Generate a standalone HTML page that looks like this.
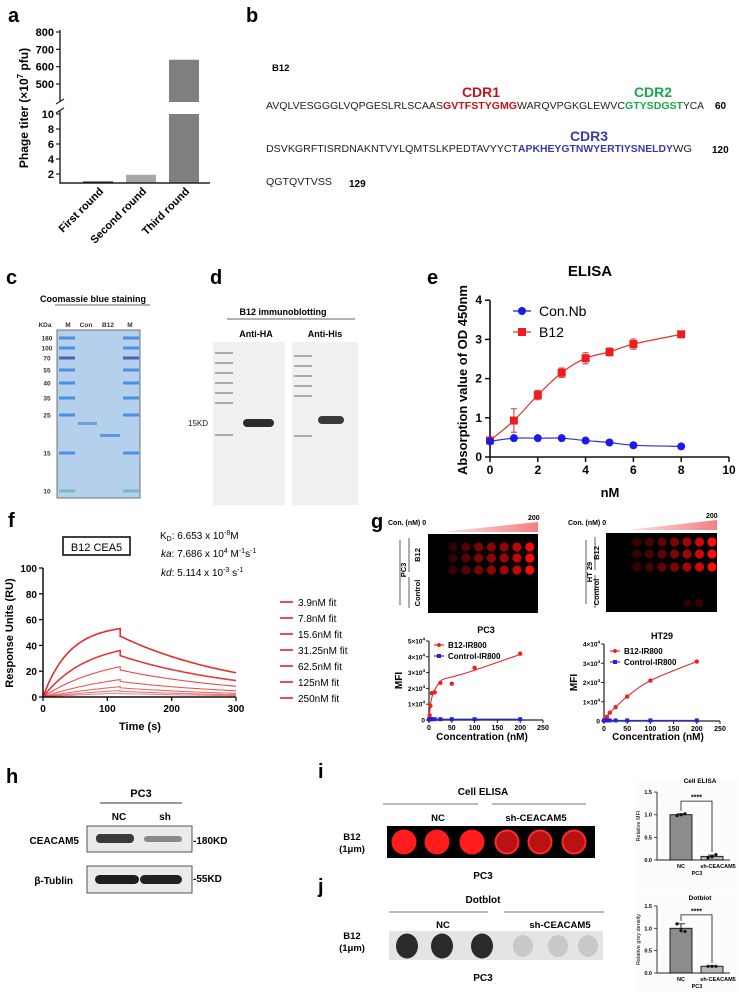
<!DOCTYPE html>
<html><head><meta charset="utf-8"><style>
html,body{margin:0;padding:0;background:#fff;}
svg{display:block;font-family:"Liberation Sans",Arial,sans-serif;}
.b{font-weight:bold;}
</style></head><body>
<svg id="fig" xmlns="http://www.w3.org/2000/svg" width="739" height="992" viewBox="0 0 739 992">
<defs>
<linearGradient id="wedge" x1="0" x2="1" y1="0" y2="0"><stop offset="0" stop-color="#fde4e4"/><stop offset="1" stop-color="#f28080"/></linearGradient>
</defs>

<g class="b" font-size="20">
<text x="8" y="22">a</text>
<text x="246" y="22">b</text>
<text x="6" y="284">c</text>
<text x="210" y="284">d</text>
<text x="427" y="284">e</text>
<text x="8" y="527">f</text>
<text x="371" y="528">g</text>
<text x="6" y="783">h</text>
<text x="318" y="778">i</text>
<text x="318" y="893">j</text>
</g>

<g font-size="10">
<text x="272" y="71" class="b" font-size="9.5">B12</text>
<text x="481" y="97" class="b" font-size="14" fill="#c0141c" text-anchor="middle">CDR1</text>
<text x="653" y="97" class="b" font-size="14" fill="#19a84c" text-anchor="middle">CDR2</text>
<text x="589" y="141" class="b" font-size="14" fill="#3a3aa8" text-anchor="middle">CDR3</text>
<text x="266" y="109" textLength="177" lengthAdjust="spacingAndGlyphs" fill="#222">AVQLVESGGGLVQPGESLRLSCAAS</text>
<text x="443" y="109" textLength="74" lengthAdjust="spacingAndGlyphs" class="b" fill="#c0141c">GVTFSTYGMG</text>
<text x="517" y="109" textLength="108" lengthAdjust="spacingAndGlyphs" fill="#222">WARQVPGKGLEWVC</text>
<text x="625" y="109" textLength="58" lengthAdjust="spacingAndGlyphs" class="b" fill="#19a84c">GTYSDGST</text>
<text x="683" y="109" textLength="21" lengthAdjust="spacingAndGlyphs" fill="#222">YCA</text>
<text x="715" y="109" class="b">60</text>
<text x="266" y="152" textLength="252" lengthAdjust="spacingAndGlyphs" fill="#222">DSVKGRFTISRDNAKNTVYLQMTSLKPEDTAVYYCT</text>
<text x="518" y="152" textLength="155" lengthAdjust="spacingAndGlyphs" class="b" fill="#3a3aa8">APKHEYGTNWYERTIYSNELDY</text>
<text x="673" y="152" textLength="19" lengthAdjust="spacingAndGlyphs" fill="#222">WG</text>
<text x="712" y="153" class="b">120</text>
<text x="266" y="185" textLength="66" lengthAdjust="spacingAndGlyphs" fill="#222">QGTQVTVSS</text>
<text x="349" y="187" class="b">129</text>
</g>

<g>
<text x="93" y="302" class="b" font-size="9" text-anchor="middle">Coomassie blue staining</text>
<line x1="55" y1="305" x2="150" y2="305" stroke="#333" stroke-width="0.8"/>
<g font-size="6.5" class="b" fill="#333" text-anchor="middle">
<text x="45" y="327">KDa</text>
<text x="68" y="327">M</text>
<text x="86" y="327">Con</text>
<text x="108" y="327">B12</text>
<text x="130" y="327">M</text>
</g>
<rect x="57" y="330" width="83" height="168" fill="#b4d0ec" stroke="#555" stroke-width="0.8"/>
<g id="gelMarkers"></g>
<rect x="78" y="422" width="19" height="3" fill="#6aa2e0"/>
<rect x="100" y="434" width="20" height="3" fill="#5d98de"/>
</g>

<g>
<text x="283" y="315" class="b" font-size="9" text-anchor="middle">B12 immunoblotting</text>
<line x1="227" y1="319" x2="355" y2="319" stroke="#333" stroke-width="0.8"/>
<text x="256" y="337" class="b" font-size="9" text-anchor="middle">Anti-HA</text>
<text x="325" y="337" class="b" font-size="9" text-anchor="middle">Anti-His</text>
<rect x="213" y="342" width="72" height="163" fill="#f1f1f1"/>
<rect x="292" y="342" width="66" height="163" fill="#f1f1f1"/>
<g id="blotLadder"></g>
<text x="188" y="426" font-size="8" fill="#222">15KD</text>
<rect x="243" y="419" width="31" height="8" rx="4" fill="#2c2c2c"/>
<rect x="318" y="416" width="26" height="8" rx="4" fill="#3a3a3a"/>
</g>

<g>
<polygon points="440,532 538,522 538,532" fill="url(#wedge)"/>
<text x="388" y="525" class="b" font-size="7">Con. (nM) 0</text>
<text x="528" y="520" class="b" font-size="7">200</text>
<rect x="428" y="534" width="110" height="79" fill="#000"/>
<text transform="translate(406,570) rotate(-90)" class="b" font-size="7.5" text-anchor="middle">PC3</text>
<line x1="409" y1="538" x2="409" y2="572" stroke="#333" stroke-width="0.8"/>
<line x1="409" y1="577" x2="409" y2="608" stroke="#333" stroke-width="0.8"/>
<line x1="400" y1="540" x2="400" y2="605" stroke="#333" stroke-width="0.8"/>
<text transform="translate(420,555) rotate(-90)" class="b" font-size="7.5" text-anchor="middle">B12</text>
<text transform="translate(420,593) rotate(-90)" class="b" font-size="7.5" text-anchor="middle">Control</text>
<polygon points="627,530 717,520 717,530" fill="url(#wedge)"/>
<text x="568" y="525" class="b" font-size="7">Con. (nM) 0</text>
<text x="706" y="518" class="b" font-size="7">200</text>
<rect x="606" y="533" width="111" height="79" fill="#000"/>
<text transform="translate(592,572) rotate(-90)" class="b" font-size="7.5" text-anchor="middle">HT 29</text>
<line x1="586" y1="540" x2="586" y2="604" stroke="#333" stroke-width="0.8"/>
<line x1="595" y1="537" x2="595" y2="570" stroke="#333" stroke-width="0.8"/>
<line x1="595" y1="575" x2="595" y2="608" stroke="#333" stroke-width="0.8"/>
<text transform="translate(599,553) rotate(-90)" class="b" font-size="7.5" text-anchor="middle">B12</text>
<text transform="translate(599,592) rotate(-90)" class="b" font-size="7.5" text-anchor="middle">Control</text>
<g id="gDots"></g>
</g>

<g>
<text x="141" y="797" class="b" font-size="11" text-anchor="middle">PC3</text>
<line x1="100" y1="803" x2="182" y2="803" stroke="#333" stroke-width="0.9"/>
<text x="119" y="820" class="b" font-size="10" text-anchor="middle">NC</text>
<text x="165" y="820" class="b" font-size="10" text-anchor="middle">sh</text>
<rect x="87" y="826" width="105" height="26" fill="#eaeaea" stroke="#444" stroke-width="0.9"/>
<rect x="96" y="834" width="38" height="9" rx="4" fill="#3a3a3a"/>
<rect x="144" y="836" width="38" height="6" rx="3" fill="#8a8a8a"/>
<rect x="87" y="866" width="105" height="27" fill="#eaeaea" stroke="#444" stroke-width="0.9"/>
<rect x="95" y="875" width="44" height="9" rx="4.5" fill="#1e1e1e"/>
<rect x="140" y="875" width="42" height="9" rx="4.5" fill="#222"/>
<text x="79" y="844" class="b" font-size="10" text-anchor="end">CEACAM5</text>
<text x="73" y="884" class="b" font-size="10" text-anchor="end">β-Tublin</text>
<text x="193" y="844" class="b" font-size="10">-180KD</text>
<text x="193" y="882" class="b" font-size="10">-55KD</text>
</g>

<g>
<text x="483" y="795" class="b" font-size="10" text-anchor="middle">Cell ELISA</text>
<line x1="383" y1="804" x2="478" y2="804" stroke="#777" stroke-width="0.9"/>
<line x1="492" y1="804" x2="586" y2="804" stroke="#777" stroke-width="0.9"/>
<text x="438" y="821" class="b" font-size="9.5" text-anchor="middle">NC</text>
<text x="536" y="821" class="b" font-size="9.5" text-anchor="middle">sh-CEACAM5</text>
<text x="352" y="840" class="b" font-size="9.5" text-anchor="middle">B12</text>
<text x="352" y="852" class="b" font-size="9.5" text-anchor="middle">(1μm)</text>
<rect x="387" y="826" width="208" height="32" fill="#000"/>
<text x="483" y="879" class="b" font-size="10" text-anchor="middle">PC3</text>
<text x="483" y="903" class="b" font-size="10" text-anchor="middle">Dotblot</text>
<line x1="389" y1="912" x2="488" y2="912" stroke="#777" stroke-width="0.9"/>
<line x1="504" y1="912" x2="604" y2="912" stroke="#777" stroke-width="0.9"/>
<text x="443" y="928" class="b" font-size="9.5" text-anchor="middle">NC</text>
<text x="560" y="928" class="b" font-size="9.5" text-anchor="middle">sh-CEACAM5</text>
<text x="352" y="939" class="b" font-size="9.5" text-anchor="middle">B12</text>
<text x="352" y="951" class="b" font-size="9.5" text-anchor="middle">(1μm)</text>
<rect x="389" y="931" width="214" height="29" fill="#e4e4e4"/>
<text x="483" y="981" class="b" font-size="10" text-anchor="middle">PC3</text>
<g id="ijDots"></g>
</g>

<g id="charts"></g>
</svg>
<script>
const NS='http://www.w3.org/2000/svg';
const root=document.getElementById('charts');
function mk(tag,attrs,parent){const e=document.createElementNS(NS,tag);for(const k in attrs)e.setAttribute(k,attrs[k]);(parent||root).appendChild(e);return e;}
function txt(x,y,s,attrs,parent){const e=mk('text',Object.assign({x:x,y:y},attrs||{}),parent);e.textContent=s;return e;}
function smooth(pts){let d='M'+pts[0][0]+','+pts[0][1];for(let i=0;i<pts.length-1;i++){const p0=pts[Math.max(0,i-1)],p1=pts[i],p2=pts[i+1],p3=pts[Math.min(pts.length-1,i+2)];const c1=[p1[0]+(p2[0]-p0[0])/6,p1[1]+(p2[1]-p0[1])/6],c2=[p2[0]-(p3[0]-p1[0])/6,p2[1]-(p3[1]-p1[1])/6];d+=' C'+c1+' '+c2+' '+p2;}return d;}

const aCategories=['First round','Second round','Third round'];
const aValues=[1.0,1.9,640];
const aLowTicks=[2,4,6,8,10];
const aHighTicks=[500,600,700,800];
const gelMarkerKDa=[180,100,70,55,40,35,25,15,10];
const eConc=[0,1,2,3,4,5,6,8];
const eB12=[0.42,0.93,1.58,2.15,2.52,2.68,2.88,3.13];
const eB12Err=[0.05,0.3,0.12,0.12,0.14,0.1,0.13,0.04];
const eConNb=[0.4,0.48,0.48,0.48,0.42,0.37,0.3,0.27];
const eXTicks=[0,2,4,6,8,10];
const eYTicks=[0,1,2,3,4];
const fConcLabels=['3.9nM fit','7.8nM fit','15.6nM fit','31.25nM fit','62.5nM fit','125nM fit','250nM fit'];
const fConcNM=[3.9,7.8,15.6,31.25,62.5,125,250];
const fPeakRU=[3,5,8,13.5,23.5,36,53];
const fXTicks=[0,100,200,300];
const fYTicks=[0,20,40,60,80,100];
const gPc3Intensity=[0.1,0.25,0.42,0.5,0.55,0.72,0.98];
const gHt29Intensity=[0.1,0.18,0.3,0.42,0.58,0.78,1.0];
const pc3Conc=[0,1.56,3.13,6.25,12.5,25,50,100,200];
const pc3B12=[0,0.3,0.9,1.7,1.75,2.35,2.3,3.3,4.2];
const pc3FitConc=[0,3,6,12.5,25,35,50,100,200];
const pc3FitVal=[0,0.9,1.4,1.9,2.45,2.62,2.72,3.15,4.15];
const pc3Ctrl=[0.05,0.05,0.05,0.05,0.05,0.05,0.05,0.05,0.05];
const ht29Conc=[0,3.13,6.25,12.5,25,50,100,200];
const ht29B12=[0,0.12,0.22,0.43,0.72,1.27,2.1,3.09];
const ht29Ctrl=[0.03,0.03,0.03,0.03,0.03,0.03,0.03,0.03];
const gXTicks=[0,50,100,150,200,250];
const pc3YTicks=[0,1,2,3,4,5];
const ht29YTicks=[0,1,2,3,4];
const iCats=['NC','sh-CEACAM5'];
const iMeans=[1.0,0.08];
const iErr=[0.02,0.03];
const iPoints=[[0.98,1.0,1.02],[0.05,0.07,0.12]];
const jMeans=[1.0,0.15];
const jErr=[0.1,0.01];
const jPoints=[[1.1,0.95,0.93],[0.15,0.15,0.15]];
const barTicks=[0.0,0.5,1.0,1.5];

(function(){
 const g=document.getElementById('gelMarkers');
 const yRows=[338,348,358,370,383,398,415,453,491];
 gelMarkerKDa.forEach((k,i)=>{
  const y=yRows[i];
  const col=k==70?'#5060b0':(k==10?'#70c0b8':'#4a8fe0');
  const r1=mk('rect',{x:59,y:y-1.5,width:16,height:3,fill:col},g);
  
  
  const r2=mk('rect',{x:123,y:y-1.5,width:16,height:3,fill:col},g);
  
  
  const t=txt(47,y+2.5,String(k),{'font-size':'6.5','font-weight':'bold','fill':'#333','text-anchor':'middle'},g);
  
  
 });
 const b=document.getElementById('blotLadder');
 [[215,352],[215,362],[215,372],[215,382],[215,392],[215,402],[215,434],[294,355],[294,365],[294,375],[294,385],[294,395],[294,435]].forEach((p,i)=>{
  const r=mk('rect',{x:p[0],y:p[1],width:18,height:2,fill:'#aaa'},b);
  
  
 });
})();

(function(){
 const g=mk('g',{});
 
 
 const yLo=v=>189-7.5*Math.max(v,0.8);
 const yHi=v=>84-(v-500)*0.1733;
 const xc=i=>98+i*43;
 const cols=['#111','#a8a8a8','#808080'];
 aValues.forEach((v,i)=>{
  if(v<=10){const r=mk('rect',{x:xc(i)-15,y:yLo(v),width:30,height:183-yLo(v),fill:cols[i]},g);
   
   }
  else{const r=mk('rect',{x:xc(i)-15,y:yLo(10),width:30,height:183-yLo(10),fill:cols[i]},g);
   
   
   const r2=mk('rect',{x:xc(i)-15,y:yHi(v),width:30,height:102-yHi(v),fill:cols[i]},g);
   
   }
  const t=txt(0,0,aCategories[i],{transform:'translate('+(xc(i)+6)+',192) rotate(-45)','text-anchor':'end','font-size':'11','font-weight':'bold'},g);
  
  
 });
 const ax=mk('path',{d:'M60,30 V101 M60,110 V183 H210',stroke:'#222','stroke-width':1.4,fill:'none'},g);
 
 
 const br=mk('path',{d:'M56,104 L64,99 M56,113 L64,108',stroke:'#222','stroke-width':1.2},g);
 
 
 aLowTicks.forEach(v=>{const y=yLo(v);const l=mk('line',{x1:56,x2:60,y1:y,y2:y,stroke:'#222','stroke-width':1.2},g);
  
  const t=txt(54,y+4,String(v),{'font-size':'11','font-weight':'bold','text-anchor':'end'},g);
  });
 aHighTicks.forEach(v=>{const y=yHi(v);const l=mk('line',{x1:56,x2:60,y1:y,y2:y,stroke:'#222','stroke-width':1.2},g);
  
  const t=txt(54,y+4,String(v),{'font-size':'11','font-weight':'bold','text-anchor':'end'},g);
  });
 const yt=mk('text',{transform:'translate(28,108) rotate(-90)','text-anchor':'middle','font-size':'12','font-weight':'bold'},g);
 yt.innerHTML='Phage titer (×10<tspan dy="-5" font-size="8">7</tspan><tspan dy="5"> pfu)</tspan>';
 
 
})();

(function(){
 const g=mk('g',{});
 
 
 const X=v=>490+v*23.9, Y=v=>457-v*39.2;
 const t0=txt(590,276,'ELISA',{'font-size':'15','font-weight':'bold','text-anchor':'middle'},g);
 
 const ax=mk('path',{d:'M490,'+Y(4)+' V457 H729',stroke:'#111','stroke-width':1.6,fill:'none'},g);
 
 eXTicks.forEach(v=>{const l=mk('line',{x1:X(v),x2:X(v),y1:457,y2:462,stroke:'#111','stroke-width':1.5},g);
  
  const t=txt(X(v),474,String(v),{'font-size':'12','font-weight':'bold','text-anchor':'middle'},g);
  });
 eYTicks.forEach(v=>{const l=mk('line',{x1:485,x2:490,y1:Y(v),y2:Y(v),stroke:'#111','stroke-width':1.5},g);
  
  const t=txt(482,Y(v)+4,String(v),{'font-size':'12','font-weight':'bold','text-anchor':'end'},g);
  });
 const xl=txt(610,497,'nM',{'font-size':'13','font-weight':'bold','text-anchor':'middle'},g);
 
 const yl=txt(0,0,'Absorption value of OD 450nm',{transform:'translate(467,380) rotate(-90)','font-size':'13','font-weight':'bold','text-anchor':'middle'},g);
 
 const lb=mk('path',{d:smooth(eConc.map((c,i)=>[X(c),Y(eB12[i])])),stroke:'#e03030','stroke-width':1.2,fill:'none'},g);
 
 const lc=mk('path',{d:smooth(eConc.map((c,i)=>[X(c),Y(eConNb[i])])),stroke:'#3030e0','stroke-width':1.2,fill:'none'},g);
 
 eConc.forEach((c,i)=>{
  const e=mk('path',{d:'M'+X(c)+','+Y(eB12[i]-eB12Err[i])+' V'+Y(eB12[i]+eB12Err[i])+' M'+(X(c)-3)+','+Y(eB12[i]-eB12Err[i])+' h6 M'+(X(c)-3)+','+Y(eB12[i]+eB12Err[i])+' h6',stroke:'#e03030','stroke-width':1},g);
  
  const p=mk('rect',{x:X(c)-4,y:Y(eB12[i])-4,width:8,height:8,fill:'#ee1c1c'},g);
  
  const q=mk('circle',{cx:X(c),cy:Y(eConNb[i]),r:4,fill:'#1a1aee'},g);
  
 });
 const l1=mk('line',{x1:513,x2:531,y1:311,y2:311,stroke:'#1a1aee','stroke-width':1.2},g);
 
 const c1=mk('circle',{cx:522,cy:311,r:4,fill:'#1a1aee'},g);
 
 const lt1=txt(539,316,'Con.Nb',{'font-size':'14'},g);
 
 const l2=mk('line',{x1:513,x2:531,y1:332,y2:332,stroke:'#e03030','stroke-width':1.2},g);
 
 const s2=mk('rect',{x:518,y:328,width:8,height:8,fill:'#ee1c1c'},g);
 
 const lt2=txt(539,337,'B12',{'font-size':'14'},g);
 
})();

(function(){
 const g=mk('g',{});
 
 
 const X=t=>43+t*0.6433, Y=v=>697-v*1.29;
 const ka=7.686e4, kd=5.114e-3;
 const bx=mk('rect',{x:63,y:537,width:67,height:18,fill:'#fff',stroke:'#111','stroke-width':1.6},g);
 
 const bt=txt(96.5,551,'B12 CEA5',{'font-size':'11','text-anchor':'middle'},g);
 
 const k1=mk('text',{x:160,y:539,'font-size':'10'},g);k1.innerHTML='K<tspan font-size="7" dy="2">D</tspan><tspan dy="-2">: 6.653 x 10</tspan><tspan font-size="7" dy="-4">-8</tspan><tspan dy="4">M</tspan>';
 
 const k2=mk('text',{x:161,y:557,'font-size':'10'},g);k2.innerHTML='<tspan font-style="italic">ka</tspan>: 7.686 x 10<tspan font-size="7" dy="-4">4</tspan><tspan dy="4"> M</tspan><tspan font-size="7" dy="-4">-1</tspan><tspan dy="4">s</tspan><tspan font-size="7" dy="-4">-1</tspan>';
 
 const k3=mk('text',{x:161,y:576,'font-size':'10'},g);k3.innerHTML='<tspan font-style="italic">kd</tspan>: 5.114 x 10<tspan font-size="7" dy="-4">-3</tspan><tspan dy="4"> s</tspan><tspan font-size="7" dy="-4">-1</tspan>';
 
 fConcNM.forEach((c,i)=>{
  const kobs=ka*c*1e-9+kd, peak=fPeakRU[i], req=peak/(1-Math.exp(-kobs*120));
  let d='';
  for(let t=0;t<=120;t+=2){d+=(t?' L':'M')+X(t).toFixed(1)+','+Y(req*(1-Math.exp(-kobs*t))).toFixed(1);}
  const r0=peak*0.89;
  for(let t=120;t<=300;t+=3){d+=' L'+X(t).toFixed(1)+','+Y(r0*Math.exp(-kd*(t-120))).toFixed(1);}
  const p=mk('path',{d:d,fill:'none',stroke:'#e42424','stroke-width':(i>=5?1.6:1.1),'stroke-opacity':(0.55+i*0.07)},g);
  
  
  const ly=602+i*16;
  const ll=mk('line',{x1:280,x2:293,y1:ly,y2:ly,stroke:'#e42424','stroke-width':1.6},g);
  
  const lt=txt(298,ly+4,fConcLabels[i],{'font-size':'10'},g);
  
 });
 const ax=mk('path',{d:'M43,'+Y(100)+' V697 H'+X(300),stroke:'#111','stroke-width':1.5,fill:'none'},g);
 
 fXTicks.forEach(v=>{const l=mk('line',{x1:X(v),x2:X(v),y1:697,y2:701,stroke:'#111','stroke-width':1.3},g);
  
  const t=txt(X(v),712,String(v),{'font-size':'10','font-weight':'bold','text-anchor':'middle'},g);
  });
 fYTicks.forEach(v=>{const l=mk('line',{x1:39,x2:43,y1:Y(v),y2:Y(v),stroke:'#111','stroke-width':1.3},g);
  
  const t=txt(37,Y(v)+4,String(v),{'font-size':'10','font-weight':'bold','text-anchor':'end'},g);
  });
 const xl=txt(140,730,'Time (s)',{'font-size':'11','font-weight':'bold','text-anchor':'middle'},g);
 
 const yl=txt(0,0,'Response Units (RU)',{transform:'translate(13,633) rotate(-90)','font-size':'11','font-weight':'bold','text-anchor':'middle'},g);
 
})();

(function(){
 const g=document.getElementById('gDots');
 const col=I=>'rgb('+Math.round(30+225*I)+','+Math.round(10*I)+','+Math.round(10*I)+')';
 gPc3Intensity.forEach((I,c)=>{[547,558,570].forEach((y,r)=>{
  const d=mk('circle',{cx:453+c*12.8,cy:y,r:4.6,fill:col(I*(r==0?0.95:1))},g);
  });});
 gHt29Intensity.forEach((I,c)=>{[542,554,567].forEach((y,r)=>{
  const d=mk('circle',{cx:637+c*12.5,cy:y,r:4.6,fill:col(I)},g);
  });});
 [687,699].forEach((x,i)=>{const d=mk('circle',{cx:x,cy:603,r:4,fill:col(0.06+0.06*i)},g);
  });
})();

function mfiChart(o){
 const g=mk('g',{});
 
 
 const X=v=>o.x0+v*(o.x1-o.x0)/250, Y=v=>o.y0-v*(o.y0-o.yTop)/o.yMax;
 const tt=txt((o.x0+o.x1)/2,o.titleY,o.title,{'font-size':'9','font-weight':'bold','text-anchor':'middle'},g);
 
 const ax=mk('path',{d:'M'+o.x0+','+Y(o.yMax)+' V'+o.y0+' H'+o.x1,stroke:'#222','stroke-width':1.2,fill:'none'},g);
 
 gXTicks.forEach(v=>{const l=mk('line',{x1:X(v),x2:X(v),y1:o.y0,y2:o.y0+3,stroke:'#222'},g);
  
  const t=txt(X(v),o.y0+10,String(v),{'font-size':'7','font-weight':'bold','text-anchor':'middle'},g);
  });
 o.yTicks.forEach(v=>{const l=mk('line',{x1:o.x0-3,x2:o.x0,y1:Y(v),y2:Y(v),stroke:'#222'},g);
  
  const t=mk('text',{x:o.x0-4,y:Y(v)+2.5,'font-size':'6.5','font-weight':'bold','text-anchor':'end'},g);
  t.innerHTML=v===0?'0':v+'×10<tspan font-size="4.5" dy="-3">4</tspan>';
  });
 const xl=txt((o.x0+o.x1)/2-4,740,'Concentration (nM)',{'font-size':'10','font-weight':'bold','text-anchor':'middle'},g);
 
 const yl=txt(0,0,'MFI',{transform:'translate('+(o.x0-27)+','+((o.y0+o.yTop)/2)+') rotate(-90)','font-size':'10','font-weight':'bold','text-anchor':'middle'},g);
 
 const fit=mk('path',{d:smooth(o.fitC.map((c,i)=>[X(c),Y(o.fitV[i])])),stroke:'#e42828','stroke-width':1.1,fill:'none'},g);
 
 const cl=mk('path',{d:o.conc.map((c,i)=>(i?'L':'M')+X(c)+','+Y(o.ctrl[i])).join(' '),stroke:'#2a2ad8','stroke-width':1.1,fill:'none'},g);
 
 o.conc.forEach((c,i)=>{
  const p=mk('circle',{cx:X(c),cy:Y(o.b12[i]),r:2.2,fill:'#ee2020'},g);
  
  const q=mk('rect',{x:X(c)-2,y:Y(o.ctrl[i])-2,width:4,height:4,fill:'#2222dd'},g);
  
 });
 const l1=mk('line',{x1:o.lx,x2:o.lx+10,y1:o.ly,y2:o.ly,stroke:'#e42828','stroke-width':1.2},g);
 
 const m1=mk('circle',{cx:o.lx+5,cy:o.ly,r:2,fill:'#ee2020'},g);
 
 const t1=txt(o.lx+14,o.ly+3,'B12-IR800',{'font-size':'8','font-weight':'bold'},g);
 
 const l2=mk('line',{x1:o.lx,x2:o.lx+10,y1:o.ly+11,y2:o.ly+11,stroke:'#2a2ad8','stroke-width':1.2},g);
 
 const m2=mk('rect',{x:o.lx+3,y:o.ly+9,width:4,height:4,fill:'#2222dd'},g);
 
 const t2=txt(o.lx+14,o.ly+14,'Control-IR800',{'font-size':'8','font-weight':'bold'},g);
 
}
mfiChart({name:'pc3-mfi-chart',title:'PC3',titleY:633,x0:429,x1:543,y0:720,yTop:641,yMax:5,yTicks:pc3YTicks,conc:pc3Conc,b12:pc3B12,ctrl:pc3Ctrl,fitC:pc3FitConc,fitV:pc3FitVal,lx:434,ly:645});
mfiChart({name:'ht29-mfi-chart',title:'HT29',titleY:639,x0:604,x1:720,y0:721,yTop:644,yMax:4,yTicks:ht29YTicks,conc:ht29Conc,b12:ht29B12,ctrl:ht29Ctrl,fitC:ht29Conc,fitV:ht29B12,lx:610,ly:651});

(function(){
 const g=document.getElementById('ijDots');
 [404,437,472].forEach(x=>{const d=mk('circle',{cx:x,cy:842,r:12.5,fill:'#ff1c1c'},g);
  });
 [507,540,574].forEach(x=>{const d=mk('circle',{cx:x,cy:842,r:11.5,fill:'#b81212',stroke:'#ff2a2a','stroke-width':2},g);
  });
 [407,442,482].forEach(x=>{const d=mk('ellipse',{cx:x,cy:946,rx:11,ry:12.5,fill:'#2a2a2a'},g);
  });
 [523,558,588].forEach(x=>{const d=mk('ellipse',{cx:x,cy:946,rx:10,ry:11,fill:'#c8c8c8'},g);
  });
})();

function smallBar(o){
 const g=mk('g',{});
 
 
 const bg=mk('rect',{x:634,y:o.y0-82,width:104,height:112,fill:'#fcfcfc'},g);
 
 const Y=v=>o.y0-v*o.ppu, xc=i=>681+i*31;
 const tt=txt(700,o.titleY,o.title,{'font-size':'6.5','font-weight':'bold','text-anchor':'middle'},g);
 
 const ax=mk('path',{d:'M657,'+Y(1.5)+' V'+o.y0+' H730',stroke:'#222','stroke-width':0.9,fill:'none'},g);
 
 barTicks.forEach(v=>{const l=mk('line',{x1:654,x2:657,y1:Y(v),y2:Y(v),stroke:'#222','stroke-width':0.8},g);
  
  const t=txt(652,Y(v)+2,v.toFixed(1),{'font-size':'5.5','font-weight':'bold','text-anchor':'end'},g);
  });
 const fills=['#8c8c8c','#b8b8b8'];
 o.means.forEach((m,i)=>{
  const r=mk('rect',{x:xc(i)-11,y:Y(m),width:22,height:o.y0-Y(m),fill:fills[i],stroke:'#111','stroke-width':0.9},g);
  
  const e=mk('path',{d:'M'+xc(i)+','+Y(m-o.err[i])+' V'+Y(m+o.err[i])+' M'+(xc(i)-4)+','+Y(m+o.err[i])+' h8',stroke:'#111','stroke-width':0.9},g);
  
  o.pts[i].forEach((p,k)=>{const c=mk('circle',{cx:xc(i)-4+k*4,cy:Y(p),r:1.6,fill:'#111'},g);
   });
  const t=txt(xc(i)+(i?6:0),o.y0+8,iCats[i],{'font-size':'5.5','font-weight':'bold','text-anchor':'middle'},g);
  
 });
 const pc=txt(697,o.y0+15,'PC3',{'font-size':'5.5','font-weight':'bold','text-anchor':'middle'},g);
 
 const yl=txt(0,0,o.ylabel,{transform:'translate(640,'+Y(0.75)+') rotate(-90)','font-size':'5.5','text-anchor':'middle'},g);
 
 const topY=Y(1.3);
 const br=mk('path',{d:'M'+xc(0)+','+(Y(o.means[0]+o.err[0])-3)+' V'+topY+' H'+xc(1)+' V'+(Y(o.means[1]+o.err[1])-3),stroke:'#111','stroke-width':0.8,fill:'none'},g);
 
 const st=txt((xc(0)+xc(1))/2,topY-1.5,'****',{'font-size':'7','font-weight':'bold','text-anchor':'middle'},g);
 
}
smallBar({name:'cell-elisa-bar-chart',title:'Cell  ELISA',titleY:783,y0:860,ppu:45.3,means:iMeans,err:iErr,pts:iPoints,ylabel:'Relative MFI'});
smallBar({name:'dotblot-bar-chart',title:'Dotblot',titleY:900,y0:973,ppu:44.7,means:jMeans,err:jErr,pts:jPoints,ylabel:'Relative grey density'});
</script>
</body></html>
